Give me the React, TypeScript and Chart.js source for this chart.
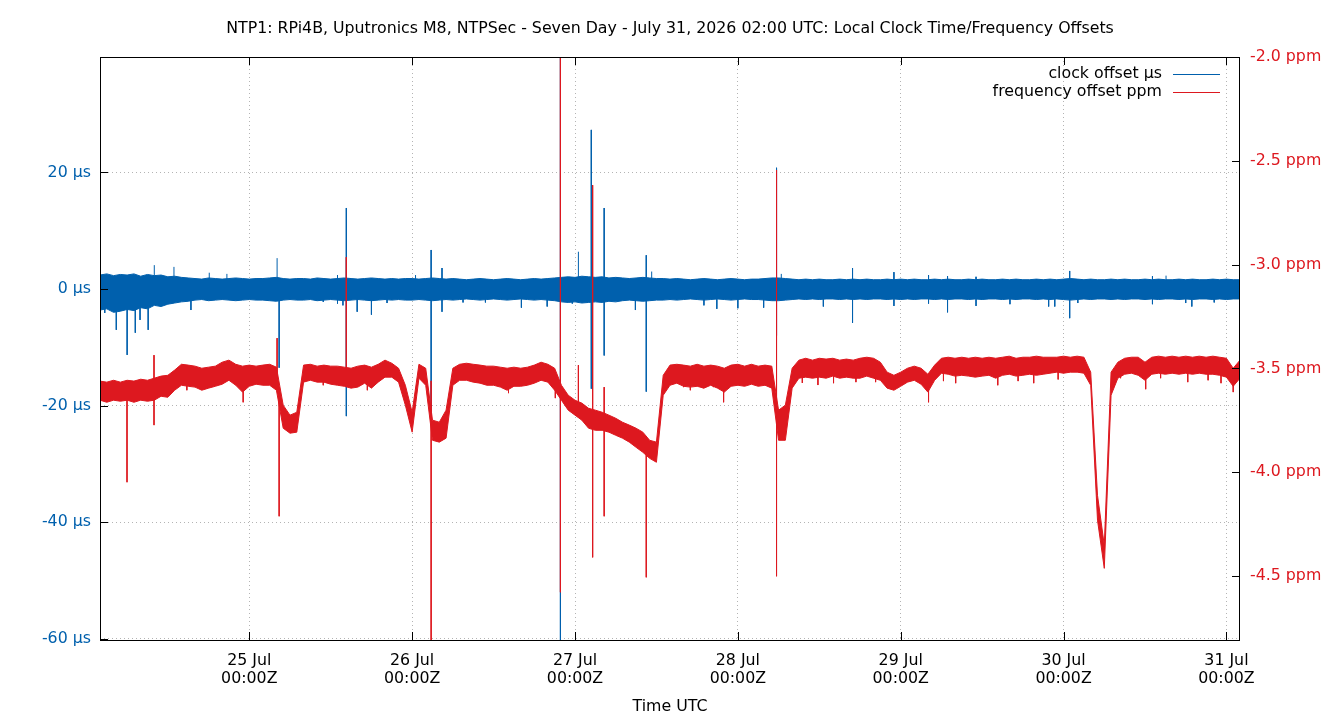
import React, { useEffect, useRef } from 'react';
import { Chart, registerables } from 'chart.js';

Chart.register(...registerables);

const BLUE = '#0060ad';
const RED = '#dd181f';
const GRID = '#b4b4b4';
const FONT_SIZE = 15.8;

const TITLE =
  'NTP1: RPi4B, Uputronics M8, NTPSec - Seven Day - July 31, 2026 02:00 UTC: Local Clock Time/Frequency Offsets';
const X_TITLE = 'Time UTC';
const CLOCK_LABEL = 'clock offset µs';
const FREQ_LABEL = 'frequency offset ppm';

// x axis: hours since 24 Jul 02:00 UTC
const hourStart = 0;
const hourEnd = 168;
const tickHours = [22, 46, 70, 94, 118, 142, 166];
const tickDays = ['25 Jul', '26 Jul', '27 Jul', '28 Jul', '29 Jul', '30 Jul', '31 Jul'];
const tickTime = '00:00Z';

const clockMin = -60.2;
const clockMax = 39.8;
const clockTicks = [-60, -40, -20, 0, 20];
const freqMin = -4.808;
const freqMax = -2.0;
const freqTicks = [-4.5, -4.0, -3.5, -3.0, -2.5, -2.0];

// frequency offset (ppm), hourly upper / lower edge of the noise band
const freqHi = [
  -3.561, -3.566, -3.557, -3.566, -3.557, -3.561, -3.552, -3.557, -3.547, -3.537, -3.533, -3.508,
  -3.480, -3.484, -3.489, -3.499, -3.494, -3.489, -3.470, -3.460, -3.480, -3.489, -3.484, -3.489,
  -3.484, -3.480, -3.494, -3.677, -3.725, -3.711, -3.484, -3.480, -3.489, -3.484, -3.489, -3.489,
  -3.494, -3.499, -3.489, -3.484, -3.494, -3.480, -3.460, -3.475, -3.499, -3.581, -3.711, -3.480,
  -3.499, -3.749, -3.759, -3.701, -3.499, -3.480, -3.475, -3.480, -3.484, -3.489, -3.489, -3.494,
  -3.499, -3.494, -3.499, -3.494, -3.484, -3.470, -3.480, -3.499, -3.581, -3.629, -3.653, -3.667,
  -3.692, -3.701, -3.711, -3.725, -3.740, -3.759, -3.773, -3.788, -3.807, -3.846, -3.855, -3.533,
  -3.484, -3.480, -3.484, -3.489, -3.480, -3.489, -3.484, -3.489, -3.499, -3.484, -3.480, -3.489,
  -3.480, -3.489, -3.484, -3.489, -3.701, -3.677, -3.499, -3.460, -3.451, -3.460, -3.451, -3.455,
  -3.451, -3.460, -3.455, -3.460, -3.451, -3.446, -3.451, -3.470, -3.518, -3.533, -3.518, -3.499,
  -3.489, -3.499, -3.528, -3.484, -3.451, -3.446, -3.451, -3.446, -3.451, -3.446, -3.451, -3.446,
  -3.451, -3.446, -3.441, -3.451, -3.446, -3.446, -3.441, -3.446, -3.446, -3.446, -3.441, -3.446,
  -3.441, -3.446, -3.518, -4.111, -4.352, -3.518, -3.470, -3.451, -3.446, -3.446, -3.470, -3.446,
  -3.441, -3.446, -3.441, -3.446, -3.441, -3.446, -3.441, -3.446, -3.441, -3.446, -3.451, -3.499,
  -3.460,
];
const freqLo = [
  -3.653, -3.663, -3.653, -3.658, -3.653, -3.663, -3.653, -3.658, -3.653, -3.634, -3.639, -3.605,
  -3.581, -3.586, -3.590, -3.605, -3.595, -3.586, -3.576, -3.557, -3.581, -3.614, -3.586, -3.576,
  -3.581, -3.581, -3.605, -3.788, -3.812, -3.807, -3.566, -3.557, -3.566, -3.566, -3.576, -3.581,
  -3.586, -3.595, -3.590, -3.571, -3.595, -3.566, -3.542, -3.542, -3.566, -3.677, -3.807, -3.547,
  -3.581, -3.846, -3.855, -3.836, -3.581, -3.557, -3.557, -3.566, -3.571, -3.581, -3.581, -3.590,
  -3.605, -3.586, -3.586, -3.581, -3.571, -3.557, -3.566, -3.605, -3.653, -3.701, -3.725, -3.749,
  -3.788, -3.798, -3.798, -3.807, -3.822, -3.836, -3.855, -3.880, -3.904, -3.933, -3.952, -3.629,
  -3.581, -3.571, -3.586, -3.590, -3.586, -3.595, -3.581, -3.595, -3.614, -3.586, -3.581, -3.586,
  -3.576, -3.586, -3.581, -3.595, -3.846, -3.846, -3.595, -3.547, -3.542, -3.547, -3.542, -3.547,
  -3.537, -3.547, -3.542, -3.547, -3.547, -3.537, -3.547, -3.557, -3.595, -3.605, -3.586, -3.566,
  -3.557, -3.576, -3.614, -3.557, -3.523, -3.528, -3.537, -3.533, -3.537, -3.542, -3.537, -3.533,
  -3.547, -3.533, -3.528, -3.537, -3.533, -3.528, -3.533, -3.528, -3.523, -3.518, -3.523, -3.518,
  -3.518, -3.523, -3.581, -4.231, -4.463, -3.629, -3.547, -3.528, -3.523, -3.533, -3.557, -3.528,
  -3.523, -3.528, -3.523, -3.528, -3.523, -3.528, -3.523, -3.528, -3.528, -3.533, -3.542, -3.586,
  -3.547,
];

// frequency offset spikes: hour, start value, end value (ppm)
const freqSpikeHour = [
  3.98, 7.96, 12.8, 21.1, 26.1, 26.4, 32.9, 36.3, 39.4, 48.8, 60.2, 67.1, 67.85, 70.5, 72.6, 74.3,
  80.5, 86.0, 87.0, 88.9, 90.4, 91.9, 94.1, 95.9, 99.7, 103.5, 105.8, 108.1, 111.4, 114.3, 122.1,
  124.3, 126.1, 132.3, 135.3, 137.6, 141.2, 150.4, 154.1, 156.3, 160.3, 163.3, 165.2, 167.0,
];
const freqSpikeFrom = [
  -3.60, -3.436, -3.53, -3.53, -3.354, -3.60, -3.52, -2.964, -3.53, -3.56, -3.54, -3.53, -1.9, -3.484,
  -2.617, -3.59, -3.85, -3.53, -3.53, -3.53, -3.53, -3.53, -3.53, -3.53, -2.545, -3.50, -3.50, -3.50,
  -3.50, -3.50, -3.55, -3.49, -3.49, -3.49, -3.49, -3.49, -3.48, -3.48, -3.49, -3.48, -3.48, -3.48,
  -3.48, -3.50,
];
const freqSpikeTo = [
  -4.048, -3.773, -3.605, -3.663, -3.60, -4.212, -3.581, -3.56, -3.605, -4.9, -3.619, -3.643, -4.578,
  -3.70, -4.410, -4.212, -4.506, -3.59, -3.605, -3.595, -3.59, -3.663, -3.57, -3.57, -4.501, -3.57,
  -3.58, -3.571, -3.566, -3.566, -3.663, -3.561, -3.571, -3.581, -3.561, -3.571, -3.553, -3.547, -3.60,
  -3.547, -3.566, -3.557, -3.571, -3.614,
];

// clock offset (µs), hourly upper / lower edge of the noise band
const clockHi = [
  2.4, 2.6, 2.3, 2.5, 2.4, 2.6, 2.2, 2.5, 2.3, 2.4, 2.1, 2.2,
  2.0, 1.9, 1.8, 1.7, 1.9, 1.8, 1.7, 1.8, 1.9, 1.8, 1.7, 1.8,
  1.8, 1.9, 2.0, 1.8, 1.7, 1.8, 1.8, 1.7, 1.9, 1.8, 1.7, 1.8,
  1.9, 1.8, 1.7, 1.8, 1.9, 1.8, 1.7, 1.8, 1.7, 1.8, 1.8, 1.7,
  1.8, 1.9, 1.8, 1.7, 1.8, 1.7, 1.6, 1.7, 1.8, 1.7, 1.6, 1.7,
  1.8, 1.7, 1.6, 1.7, 1.8, 1.7, 1.8, 1.9, 2.0, 2.1, 2.0, 2.2,
  2.1, 2.0, 2.1, 1.9, 2.0, 1.9, 1.8, 1.9, 2.0, 1.9, 1.8, 1.8,
  1.7, 1.8, 1.7, 1.6, 1.7, 1.8, 1.7, 1.6, 1.7, 1.8, 1.7, 1.6,
  1.7, 1.7, 1.8, 1.9, 1.9, 1.8, 1.7, 1.6, 1.7, 1.6, 1.7, 1.6,
  1.6, 1.7, 1.6, 1.7, 1.6, 1.7, 1.6, 1.6, 1.7, 1.6, 1.7, 1.6,
  1.7, 1.6, 1.6, 1.7, 1.6, 1.7, 1.6, 1.6, 1.7, 1.6, 1.7, 1.6,
  1.6, 1.7, 1.6, 1.7, 1.6, 1.6, 1.7, 1.6, 1.7, 1.6, 1.7, 1.8,
  1.7, 1.6, 1.7, 1.6, 1.6, 1.7, 1.6, 1.7, 1.6, 1.6, 1.7, 1.6,
  1.7, 1.6, 1.6, 1.7, 1.6, 1.7, 1.6, 1.6, 1.7, 1.6, 1.7, 1.6,
  1.6,
];
const clockLo = [
  -3.6, -3.4, -4.0, -3.8, -3.5, -3.7, -3.2, -3.4, -2.8, -3.0, -2.6, -2.4,
  -2.2, -2.1, -1.9, -1.8, -2.0, -1.9, -1.8, -1.9, -2.0, -1.9, -1.8, -1.9,
  -1.9, -2.0, -2.1, -1.9, -1.8, -1.9, -1.9, -1.8, -2.0, -1.9, -1.8, -1.9,
  -2.0, -1.9, -1.8, -1.9, -2.0, -1.9, -1.8, -1.9, -1.8, -1.9, -1.9, -1.8,
  -1.9, -2.0, -1.9, -1.8, -1.9, -1.8, -1.7, -1.8, -1.9, -1.8, -1.7, -1.8,
  -1.9, -1.8, -1.7, -1.8, -1.9, -1.8, -1.9, -2.0, -2.2, -2.3, -2.2, -2.4,
  -2.3, -2.2, -2.3, -2.1, -2.2, -2.0, -1.9, -2.0, -2.1, -2.0, -1.9, -1.9,
  -1.8, -1.9, -1.8, -1.7, -1.8, -1.9, -1.8, -1.7, -1.8, -1.9, -1.8, -1.7,
  -1.8, -1.8, -1.9, -2.0, -2.0, -1.9, -1.8, -1.7, -1.8, -1.7, -1.8, -1.7,
  -1.7, -1.8, -1.7, -1.8, -1.7, -1.8, -1.7, -1.7, -1.8, -1.7, -1.8, -1.7,
  -1.8, -1.7, -1.7, -1.8, -1.7, -1.8, -1.7, -1.7, -1.8, -1.7, -1.8, -1.7,
  -1.7, -1.8, -1.7, -1.8, -1.7, -1.7, -1.8, -1.7, -1.8, -1.7, -1.8, -1.9,
  -1.8, -1.7, -1.8, -1.7, -1.7, -1.8, -1.7, -1.8, -1.7, -1.7, -1.8, -1.7,
  -1.8, -1.7, -1.7, -1.8, -1.7, -1.8, -1.7, -1.7, -1.8, -1.7, -1.8, -1.7,
  -1.7,
];

// clock offset spikes: hour, start value, end value (µs)
const clockSpikeHour = [
  0.7, 2.4, 4.0, 5.2, 5.9, 7.1, 8.0, 10.9, 13.4, 16.1, 18.7, 26.1, 26.4, 32.9, 35.0, 35.8, 36.3,
  37.9, 40.0, 42.3, 46.5, 48.8, 50.4, 53.5, 56.8, 62.1, 65.9, 67.85, 69.6, 70.5, 72.4, 74.3, 78.9,
  80.5, 81.3, 89.0, 90.9, 94.0, 97.8, 99.7, 100.4, 106.6, 110.9, 117.0, 122.1, 124.9, 129.1, 134.1,
  139.8, 140.7, 142.9, 144.1, 155.1, 157.1, 160.0, 160.9, 164.2,
];
const clockSpikeFrom = [
  0, 0, 0, 0, 0, 0, 0, 0, 0, 0, 0, 0, 0, 0, 2.4, 0, 13.9,
  0, 0, 0, 0, 6.7, 3.6, 0, 0, 0, 0, 41, 0, 0, 27.3, 13.9, 0,
  5.8, 0, 0, 0, 0, 0, 20.8, 0, 0, 3.6, 2.9, 2.4, 2.2, 2.1, 0,
  0, 0, 3.1, 0, 2.2, 0, 0, 0, 0,
];
const clockSpikeTo = [
  -4.1, -7.0, -11.3, -7.5, -5.3, -7.0, 4.1, 3.8, -3.6, 2.8, 2.6, 5.3, -13.5, -2.2, -2.5, -2.8, -21.8,
  -3.9, -4.4, -2.4, 2.4, -21.7, -3.9, -2.3, -2.3, -3.2, -3.0, -62, -2.5, 6.4, -17.1, -11.4, -3.6,
  -17.6, 3.0, -2.8, -3.4, -3.3, -3.2, -8.0, 2.6, -3.0, -5.8, -2.9, -2.5, -4.0, -2.9, -2.6,
  -3.0, -3.0, -5.0, -2.4, -2.6, 2.3, -2.4, -3.0, -2.3,
];

function band(values: number[]) {
  return values.map((v, i) => ({ x: hourStart + i, y: v }));
}

function spikes(hours: number[], from: number[], to: number[]) {
  const out: { x: number; y: number | null }[] = [];
  hours.forEach((h, i) => {
    out.push({ x: h, y: from[i] }, { x: h, y: to[i] }, { x: h, y: null });
  });
  return out;
}

const framePlugin = {
  id: 'gnuFrame',
  afterDatasetsDraw(chart: any) {
    const { ctx, chartArea, scales } = chart;
    const { left, right, top, bottom } = chartArea;
    const L = 8;
    ctx.save();
    ctx.strokeStyle = '#000';
    ctx.lineWidth = 1;
    ctx.beginPath();
    scales.y.ticks.forEach((t: any) => {
      const y = Math.round(scales.y.getPixelForValue(t.value)) + 0.5;
      ctx.moveTo(left, y);
      ctx.lineTo(left + L, y);
    });
    scales.y2.ticks.forEach((t: any) => {
      const y = Math.round(scales.y2.getPixelForValue(t.value)) + 0.5;
      ctx.moveTo(right, y);
      ctx.lineTo(right - L, y);
    });
    scales.x.ticks.forEach((t: any) => {
      const x = Math.round(scales.x.getPixelForValue(t.value)) + 0.5;
      ctx.moveTo(x, bottom);
      ctx.lineTo(x, bottom - L);
      ctx.moveTo(x, top);
      ctx.lineTo(x, top + L);
    });
    ctx.stroke();
    ctx.strokeRect(Math.round(left) + 0.5, Math.round(top) + 0.5, Math.round(right - left) - 1, Math.round(bottom - top));

    // gnuplot-style key
    ctx.font = `${FONT_SIZE}px "DejaVu Sans"`;
    ctx.textAlign = 'right';
    ctx.textBaseline = 'middle';
    ctx.fillStyle = '#000';
    const entries = [
      { text: CLOCK_LABEL, color: BLUE, y: 74 },
      { text: FREQ_LABEL, color: RED, y: 92 },
    ];
    entries.forEach((e) => {
      ctx.fillText(e.text, 1162, e.y);
      ctx.strokeStyle = e.color;
      ctx.beginPath();
      ctx.moveTo(1173, e.y + 0.5);
      ctx.lineTo(1220, e.y + 0.5);
      ctx.stroke();
    });
    ctx.restore();
  },
};

function lineStyle(color: string) {
  return {
    borderColor: color,
    backgroundColor: color,
    borderWidth: 1,
    pointRadius: 0,
    pointHoverRadius: 0,
    tension: 0,
    spanGaps: false,
  };
}

export default function App() {
  const ref = useRef<HTMLCanvasElement | null>(null);

  useEffect(() => {
    if (!ref.current) return;
    Chart.defaults.font.family = '"DejaVu Sans", sans-serif';
    Chart.defaults.font.size = FONT_SIZE;
    const chart = new Chart(ref.current, {
      type: 'line',
      data: {
        datasets: [
          { label: FREQ_LABEL, data: band(freqHi), yAxisID: 'y2', order: 1, fill: false, ...lineStyle(RED) },
          { label: 'freq-lo', data: band(freqLo), yAxisID: 'y2', order: 1, fill: '-1', ...lineStyle(RED) },
          {
            label: 'freq-spikes',
            data: spikes(freqSpikeHour, freqSpikeFrom, freqSpikeTo),
            yAxisID: 'y2',
            order: 1,
            fill: false,
            ...lineStyle(RED),
          },
          { label: CLOCK_LABEL, data: band(clockHi), yAxisID: 'y', order: 2, fill: false, ...lineStyle(BLUE) },
          { label: 'clock-lo', data: band(clockLo), yAxisID: 'y', order: 2, fill: '-1', ...lineStyle(BLUE) },
          {
            label: 'clock-spikes',
            data: spikes(clockSpikeHour, clockSpikeFrom, clockSpikeTo),
            yAxisID: 'y',
            order: 2,
            fill: false,
            ...lineStyle(BLUE),
          },
        ] as any,
      },
      options: {
        responsive: false,
        animation: false,
        events: [],
        layout: { padding: 0 },
        plugins: {
          legend: { display: false },
          tooltip: { enabled: false },
          title: {
            display: true,
            text: TITLE,
            color: '#000',
            font: { size: FONT_SIZE, weight: 'normal', lineHeight: 1.2 },
            padding: { top: 19.5, bottom: 18.54 },
          },
        },
        scales: {
          x: {
            type: 'linear',
            min: hourStart,
            max: hourEnd,
            afterBuildTicks: (s: any) => {
              s.ticks = tickHours.map((v) => ({ value: v }));
            },
            afterFit: (s: any) => {
              s.height = 80;
            },
            ticks: {
              autoSkip: false,
              maxRotation: 0,
              color: '#000',
              padding: 12,
              font: { size: FONT_SIZE, lineHeight: 1.14 },
              callback: (_v: any, i: number) => [tickDays[i], tickTime],
            },
            grid: { color: GRID, drawTicks: false, lineWidth: 1 },
            border: { display: false, dash: [1, 3] },
            title: {
              display: true,
              text: X_TITLE,
              color: '#000',
              font: { size: FONT_SIZE, lineHeight: 1.2 },
              padding: { top: 0, bottom: 3.5 },
            },
          },
          y: {
            type: 'linear',
            position: 'left',
            min: clockMin,
            max: clockMax,
            afterBuildTicks: (s: any) => {
              s.ticks = clockTicks.map((v) => ({ value: v }));
            },
            afterFit: (s: any) => {
              s.width = 100;
            },
            ticks: {
              color: BLUE,
              padding: 9,
              callback: (v: any) => `${v} µs`,
            },
            grid: { color: GRID, drawTicks: false, lineWidth: 1 },
            border: { display: false, dash: [1, 3] },
          },
          y2: {
            type: 'linear',
            position: 'right',
            min: freqMin,
            max: freqMax,
            afterBuildTicks: (s: any) => {
              s.ticks = freqTicks.map((v) => ({ value: v }));
            },
            afterFit: (s: any) => {
              s.width = 100;
            },
            ticks: {
              color: RED,
              padding: 10,
              callback: (v: any) => `${Number(v).toFixed(1)} ppm`,
            },
            grid: { display: false, drawTicks: false },
            border: { display: false },
          },
        },
      } as any,
      plugins: [framePlugin],
    });
    return () => chart.destroy();
  }, []);

  return (
    <div style={{ position: 'absolute', left: 0, top: 0, width: 1340, height: 720, background: '#fff' }}>
      <canvas ref={ref} width={1340} height={720} style={{ display: 'block' }} />
    </div>
  );
}
